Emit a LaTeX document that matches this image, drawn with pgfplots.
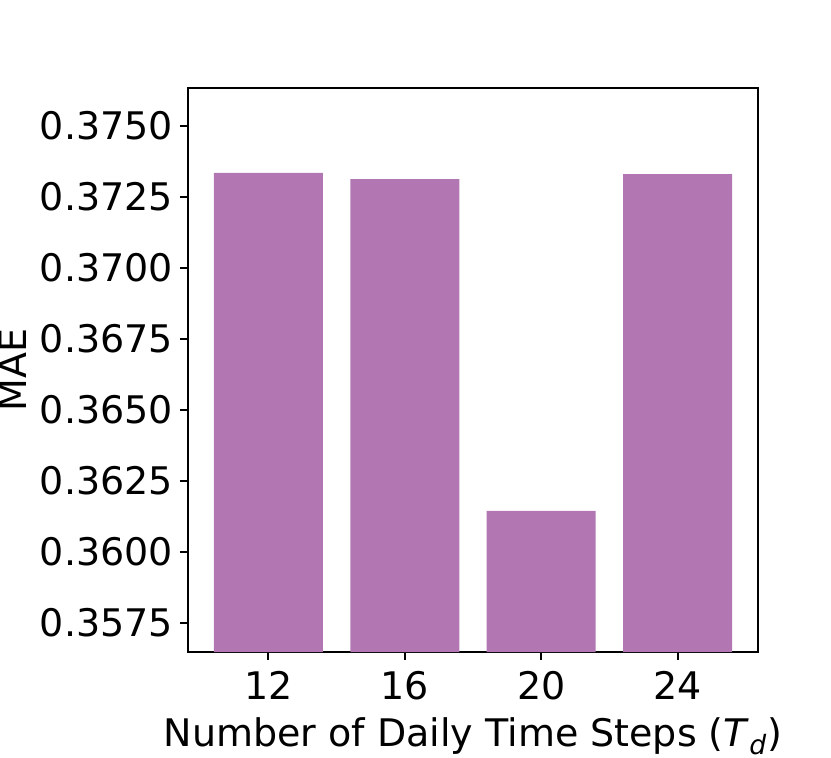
\documentclass[border=0pt]{standalone}
\usepackage{pgfplots}
\pgfplotsset{compat=1.18}
\usepackage{fontspec}
\setmainfont{DejaVu Sans}
\definecolor{barpurple}{HTML}{B276B2}

\begin{document}
\begin{tikzpicture}
  \begin{axis}[
      scale only axis,
      width=285pt, height=282pt,
      font=\fontsize{19}{23}\selectfont,
      ybar, bar width=0.8, bar shift=0pt,
      xmin=-0.59, xmax=3.59,
      ymin=0.35648, ymax=0.37634,
      xtick=data,
      xticklabels={12,16,20,24},
      ytick={0.3575,0.3600,0.3625,0.3650,0.3675,0.3700,0.3725,0.3750},
      scaled y ticks=false,
      yticklabel style={/pgf/number format/.cd, fixed, fixed zerofill, precision=4, assume math mode=true},
      xticklabel style={/pgf/number format/assume math mode=true, yshift=-2pt},
      tick align=outside,
      major tick length=4pt,
      xtick pos=bottom, ytick pos=left,
      axis line style={line width=1pt},
      every tick/.style={black, line width=1pt},
      xlabel={Number of Daily Time Steps (\textit{T}\textsubscript{\textit{d}})},
      xlabel style={yshift=-2pt},
      ylabel={MAE},
    ]
    % MAE per number of daily time steps
    \addplot[fill=barpurple, draw=none] coordinates {
      (0, 0.37335)
      (1, 0.37313)
      (2, 0.36145)
      (3, 0.37331)
    };
  \end{axis}
  \pgfresetboundingbox
  \path ([shift={(-94pt,-52.5pt)}]current axis.south west) rectangle ([shift={(36.5pt,44pt)}]current axis.north east);
\end{tikzpicture}
\end{document}
